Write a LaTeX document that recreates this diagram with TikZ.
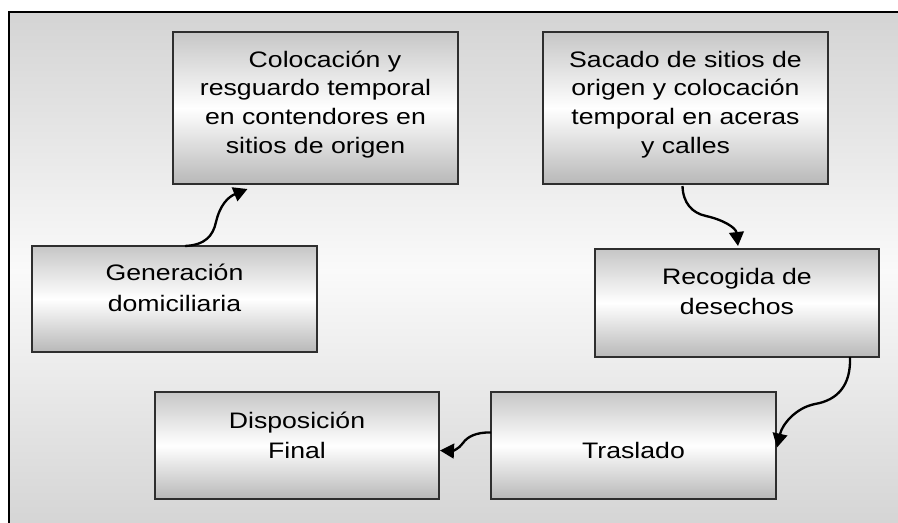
\documentclass[tikz,border=0pt]{standalone}
\usepackage{fontspec}
\usepackage{graphicx}
\setmainfont{Liberation Sans}
\usetikzlibrary{calc,arrows.meta}
\definecolor{bggray}{HTML}{D4D4D4}
\definecolor{boxtop}{HTML}{C6C6C6}
\definecolor{boxbot}{HTML}{B8B8B8}
\definecolor{boxline}{HTML}{2E2E2E}
\newcommand{\mylines}[2]{\scalebox{1.19}[1]{\fontsize{16.8}{#1}\selectfont\begin{tabular}[t]{@{}c@{}}#2\end{tabular}}}
\tikzset{
  stepbox/.style={draw=boxline, line width=1pt, top color=boxtop, bottom color=boxbot, middle color=white, inner sep=0pt, outer sep=0pt},
  boxtext/.style={anchor=base, inner sep=0pt, text=black},
  flow/.style={line width=1.75pt, -{Triangle[length=10.5pt,width=11pt]}}
}
\begin{document}
\begin{tikzpicture}[x=0.75pt,y=-0.75pt]
\useasboundingbox (0,0) rectangle (898,522);
% frame
\begin{scope}
\clip (0,0) rectangle (898,522);
\shade[top color=bggray, bottom color=bggray, middle color=white!98!black] (9,12) rectangle (905,530);
\draw[line width=1.6pt, black] (9,535) -- (9,12) -- (905,12);
\end{scope}
% boxes
\node[stepbox, minimum width=285*0.75pt, minimum height=152*0.75pt, anchor=north west] (col) at (173,32) {};
\node[stepbox, minimum width=285*0.75pt, minimum height=152*0.75pt, anchor=north west] (sac) at (543,32) {};
\node[stepbox, minimum width=285*0.75pt, minimum height=106*0.75pt, anchor=north west] (gen) at (32,246) {};
\node[stepbox, minimum width=284*0.75pt, minimum height=108*0.75pt, anchor=north west] (rec) at (595,249) {};
\node[stepbox, minimum width=284*0.75pt, minimum height=107*0.75pt, anchor=north west] (dis) at (155,392) {};
\node[stepbox, minimum width=285*0.75pt, minimum height=107*0.75pt, anchor=north west] (tra) at (491,392) {};
% texts
\node[boxtext] (tcol) at ($(col.north)+(0,35.3)$) {\mylines{21.45pt}{\hspace*{12pt}Colocación y\\resguardo temporal\\en contendores en\\sitios de origen}};
\node[boxtext] (tsac) at ($(sac.north)+(0,35.3)$) {\mylines{21.45pt}{Sacado de sitios de\\origen y colocación\\temporal en aceras\\y calles}};
\node[boxtext] (tgen) at ($(gen.north)+(0,34)$) {\mylines{23.5pt}{Generación\\domiciliaria}};
\node[boxtext] (trec) at ($(rec.north)+(0,35.7)$) {\mylines{22.5pt}{Recogida de\\desechos}};
\node[boxtext] (tdis) at ($(dis.north)+(0,36.3)$) {\mylines{22.5pt}{Disposición\\Final}};
\node[boxtext] (ttra) at ($(tra.north)+(0,66.3)$) {\mylines{22.5pt}{Traslado}};
% connectors
\draw[flow] ($(gen.north)+(10.5,0)$) .. controls (205,245) and (213,236) .. (216,222)
  .. controls (220,205) and (228,197) .. ($(col.south)+(-68,5)$);
\draw[flow] ($(sac.south)+(-3,2)$) .. controls (683,203) and (692,213) .. (706,216)
  .. controls (724,220) and (736,228) .. ($(rec.north)+(1,-3)$);
\draw[flow] ($(rec.south)+(113,0)$) .. controls (851,385) and (838,400) .. (815,404)
  .. controls (795,408) and (782,425) .. ($(tra.east)+(1,2)$);
\draw[flow] ($(tra.west)+(0,-13)$) .. controls (476,432) and (467,437) .. (463,443)
  .. controls (459,449) and (452,451) .. ($(dis.east)+(1,5)$);
\end{tikzpicture}
\end{document}
